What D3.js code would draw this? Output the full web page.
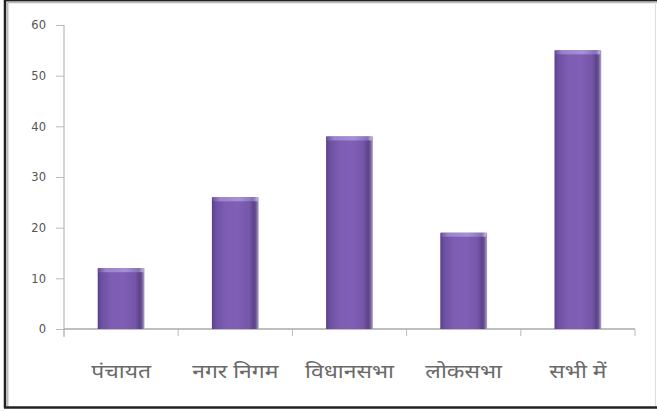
<!DOCTYPE html>
<html>
<head>
<meta charset="utf-8">
<script src="https://cdn.jsdelivr.net/npm/d3@7/dist/d3.min.js"></script>
<style>
  html, body { margin: 0; padding: 0; background: #fff; }
  svg { display: block; }
</style>
</head>
<body>
<svg id="chart" width="657" height="411"></svg>
<script>
// Categories and their values
const categories = ["पंचायत", "नगर निगम", "विधानसभा", "लोकसभा", "सभी में"];
const values = [12, 26, 38, 19, 55];
const yTicks = [0, 10, 20, 30, 40, 50, 60];

const W = 657, H = 411;
const svg = d3.select("#chart");

// Outer frame: dark line with a soft grey inner edge
svg.append("rect").attr("x", 0).attr("y", 0).attr("width", W).attr("height", H).attr("fill", "#fff");
svg.append("line").attr("x1", 5).attr("x2", 5).attr("y1", 0).attr("y2", 408).attr("stroke", "#222").attr("stroke-width", 2.5);
svg.append("line").attr("x1", 7.5).attr("x2", 7.5).attr("y1", 2).attr("y2", 406).attr("stroke", "#bbb").attr("stroke-width", 2);
svg.append("line").attr("x1", 4).attr("x2", W).attr("y1", 0.8).attr("y2", 0.8).attr("stroke", "#222").attr("stroke-width", 1.6);
svg.append("line").attr("x1", 6).attr("x2", W).attr("y1", 2.5).attr("y2", 2.5).attr("stroke", "#bbb").attr("stroke-width", 1.5);
svg.append("line").attr("x1", 4).attr("x2", W).attr("y1", 407.5).attr("y2", 407.5).attr("stroke", "#222").attr("stroke-width", 2.5);
svg.append("line").attr("x1", 655.5).attr("x2", 655.5).attr("y1", 2).attr("y2", 406).attr("stroke", "#ddd").attr("stroke-width", 1);

const plot = { left: 64, right: 635, top: 25, bottom: 329 };

const x = d3.scaleBand().domain(categories).range([plot.left, plot.right]).padding(0);
const y = d3.scaleLinear().domain([0, 60]).range([plot.bottom, plot.top]);

// Horizontal gradient giving the bars a rounded, lit look
const defs = svg.append("defs");
const grad = defs.append("linearGradient").attr("id", "barGrad").attr("x1", "0").attr("x2", "1").attr("y1", "0").attr("y2", "0");
[
  [0, "#5a3f88"], [0.08, "#6c50a0"], [0.3, "#7d5eb3"], [0.55, "#805fb6"],
  [0.8, "#7556a8"], [0.9, "#5c4388"], [0.94, "#6a5596"], [1, "#b3a6d0"]
].forEach(([o, c]) => grad.append("stop").attr("offset", o).attr("stop-color", c));

const capGrad = defs.append("linearGradient").attr("id", "capGrad").attr("x1", "0").attr("x2", "1").attr("y1", "0").attr("y2", "0");
[
  [0, "#7058a0"], [0.15, "#9a82cc"], [0.6, "#a690d8"], [0.9, "#8670b8"], [1, "#c4b8de"]
].forEach(([o, c]) => capGrad.append("stop").attr("offset", o).attr("stop-color", c));

// Y axis
const yAxis = d3.axisLeft(y).tickValues(yTicks).tickSize(8).tickPadding(10).tickFormat(d3.format("d"));
const gy = svg.append("g").attr("transform", `translate(${plot.left},0)`).call(yAxis);
gy.select(".domain").attr("stroke", "#aaa").attr("d", `M0,${plot.top}V${plot.bottom + 8}`);
gy.selectAll(".tick line").attr("stroke", "#bbb");
gy.selectAll(".tick text").attr("fill", "#555").attr("font-size", 11.5).attr("font-family", "DejaVu Sans, sans-serif");

// X axis: ticks at the category boundaries
const boundaries = categories.map(c => x(c)).concat([plot.right]);
const gx = svg.append("g");
gx.append("line").attr("x1", plot.left).attr("x2", plot.right).attr("y1", plot.bottom).attr("y2", plot.bottom).attr("stroke", "#aaa").attr("stroke-width", 1.5);
gx.selectAll("line.tk").data(boundaries).enter().append("line").attr("class", "tk")
  .attr("x1", d => d).attr("x2", d => d).attr("y1", plot.bottom).attr("y2", plot.bottom + 7)
  .attr("stroke", "#bbb");

// Bars
const barW = x.bandwidth() * 0.41;
const bars = svg.append("g");
categories.forEach((c, i) => {
  const cx = x(c) + x.bandwidth() / 2;
  const top = y(values[i]);
  bars.append("rect").attr("x", cx - barW / 2).attr("y", top).attr("width", barW)
    .attr("height", plot.bottom - top).attr("fill", "url(#barGrad)");
  bars.append("rect").attr("x", cx - barW / 2 + 1).attr("y", top).attr("width", barW - 2)
    .attr("height", 4).attr("fill", "url(#capGrad)");
});

// Category labels, set wide like the Devanagari face used in the original sheet
svg.append("g").selectAll("text").data(categories).enter().append("text")
  .attr("transform", d => `translate(${x(d) + x.bandwidth() / 2},378) scale(1.35,1.1)`)
  .attr("text-anchor", "middle")
  .attr("fill", "#6a6a6a")
  .attr("font-size", 17)
  .attr("font-family", "'Noto Sans Devanagari', 'Noto Sans', sans-serif")
  .text(d => d);
</script>
</body>
</html>
